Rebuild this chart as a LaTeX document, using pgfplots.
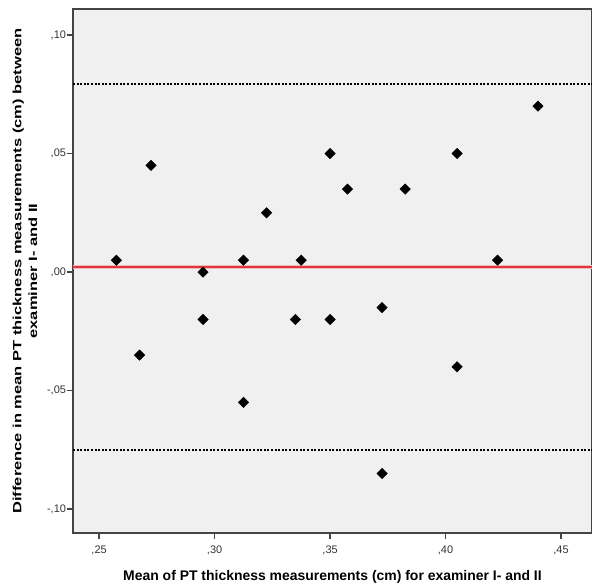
\documentclass[border=0pt]{standalone}
\usepackage{pgfplots}
\pgfplotsset{compat=1.18}
\usepackage{fontspec}
\setmainfont{Liberation Sans}
\definecolor{bggray}{HTML}{F0F0F0}
\definecolor{axisgray}{HTML}{444444}
\definecolor{tickgray}{HTML}{333333}
\definecolor{redline}{RGB}{222,55,60}
\begin{document}
\begin{tikzpicture}
\useasboundingbox (-73bp,-55bp) rectangle (519bp,533bp);
\begin{axis}[
  at={(0,0)}, anchor=south west,
  scale only axis, width=519bp, height=524bp,
  xmin=0.2387, xmax=0.4634, ymin=-0.1101, ymax=0.1110,
  axis background/.style={fill=bggray},
  axis line style={draw=axisgray, line width=1.2bp},
  tick align=outside, tick pos=left, major tick length=6bp,
  tick style={draw=axisgray, line width=1.3bp},
  xtick={0.25,0.30,0.35,0.40,0.45},
  xticklabels={{,25},{,30},{,35},{,40},{,45}},
  ytick={-0.10,-0.05,0,0.05,0.10},
  yticklabels={{-,10},{-,05},{,00},{,05},{,10}},
  ticklabel style={font=\fontsize{11}{12}\selectfont, text=tickgray},
  xticklabel style={yshift=-3bp},
  yticklabel style={xshift=2.5bp},
  xlabel={Mean of PT thickness measurements (cm) for examiner I- and II},
  xlabel style={font=\fontsize{14}{16}\selectfont\bfseries,
    at={(axis description cs:0.5,-0.0916)}, anchor=base},
  ylabel={Difference in mean PT thickness measurements (cm) between\\examiner I- and II},
  ylabel style={font=\fontsize{12}{16}\selectfont\bfseries, align=center,
    at={(axis description cs:-0.0925,0.5)}, anchor=center, xscale=1.38},
]
  % limits of agreement
  \addplot[black, line width=2bp, dash pattern=on 2bp off 1.6bp]
    coordinates {(0.2387,0.0793) (0.4634,0.0793)};
  \addplot[black, line width=2bp, dash pattern=on 2bp off 1.6bp]
    coordinates {(0.2387,-0.0752) (0.4634,-0.0752)};
  % mean difference
  \addplot[redline!35, line width=3.6bp] coordinates {(0.2387,0.0021) (0.4634,0.0021)};
  \addplot[redline, line width=1.8bp] coordinates {(0.2387,0.0021) (0.4634,0.0021)};
  % differences
  \addplot[only marks, mark=square*, mark size=3.7bp,
    mark options={rotate=45, fill=black, draw=black}]
  table {
    x y
    0.2575 0.005
    0.2675 -0.035
    0.2725 0.045
    0.2950 0.000
    0.2950 -0.020
    0.3125 0.005
    0.3125 -0.055
    0.3225 0.025
    0.3350 -0.020
    0.3375 0.005
    0.3500 0.050
    0.3500 -0.020
    0.3575 0.035
    0.3725 -0.015
    0.3725 -0.085
    0.3825 0.035
    0.4050 0.050
    0.4050 -0.040
    0.4225 0.005
    0.4400 0.070
  };
\end{axis}
\end{tikzpicture}
\end{document}
